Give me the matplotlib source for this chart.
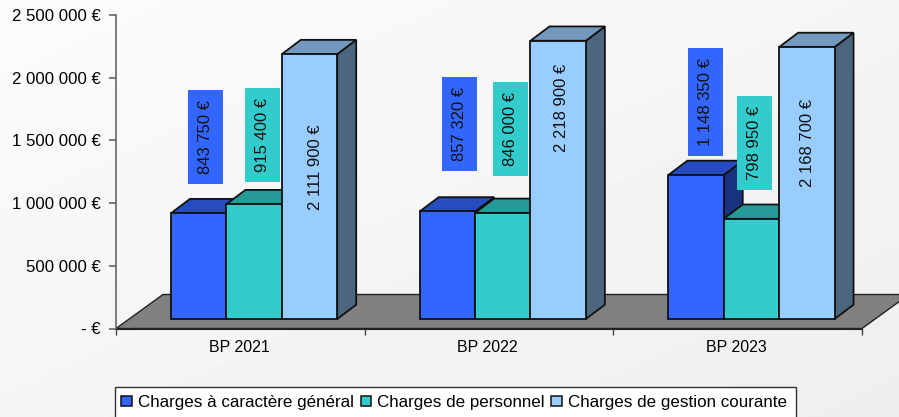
# Budget chart with fake 3D bars
import numpy as np
import matplotlib
matplotlib.use('Agg')
import matplotlib.pyplot as plt
from matplotlib.patches import Polygon, Patch, Rectangle
from matplotlib.ticker import FuncFormatter, FixedLocator, FixedFormatter

plt.rcParams['font.family'] = ['Liberation Sans', 'DejaVu Sans']

years = ['BP 2021', 'BP 2022', 'BP 2023']
series_names = ['Charges à caractère général', 'Charges de personnel', 'Charges de gestion courante']
charges_generales = [843750, 857320, 1148350]
charges_personnel = [915400, 846000, 798950]
charges_gestion = [2111900, 2218900, 2168700]
series = [charges_generales, charges_personnel, charges_gestion]

front_cols = ['#3366FF', '#33CCCC', '#99CCFF']
top_cols = ['#264DBF', '#269999', '#7399BF']
side_cols = ['#1A3380', '#1A6666', '#4D6680']

W, H = 899, 417
x0, x1 = 116, 862
ytop, ybot = 15, 328.5
cat_px = (x1 - x0) / 3
eur_px = 2500000 / (ybot - ytop)

# depth of floor and of the bars, in data units
floor_dx = 47 / cat_px
floor_dy = 34 * eur_px
bar_dx = 19 / cat_px
bar_dy = 14.3 * eur_px
base_dx = 55 / cat_px
base_dy = 9.5 * eur_px
bar_w = 55.4 / cat_px

fig = plt.figure(figsize=(W / 100, H / 100), dpi=100)

# pale background gradient
bg = fig.add_axes([0, 0, 1, 1], zorder=0)
xx, yy = np.meshgrid(np.linspace(0, 1, 200), np.linspace(0, 1, 100))
bg.imshow(0.985 - 0.05 * (xx + yy) / 2, cmap='gray', vmin=0, vmax=1, aspect='auto')
bg.axis('off')

ax = fig.add_axes([x0 / W, 1 - ybot / H, (x1 - x0) / W, (ybot - ytop) / H], zorder=1)
ax.patch.set_alpha(0)
ax.set_xlim(0, 3)
ax.set_ylim(0, 2500000)

# floor
ax.add_patch(Polygon([(0, 0), (floor_dx, floor_dy), (3 + floor_dx, floor_dy), (3, 0)],
                     closed=True, fc='#808080', ec='#222222', lw=1, clip_on=False, zorder=1))

z = 2
for i in range(len(years)):
    for s, vals in enumerate(series):
        left = i + base_dx + s * bar_w
        right = left + bar_w
        top = base_dy + vals[i]
        ax.bar(left, vals[i], bar_w, bottom=base_dy, align='edge', color=front_cols[s],
               edgecolor='#111111', lw=1.3, zorder=z + 1, clip_on=False)
        ax.add_patch(Polygon([(right, base_dy), (right + bar_dx, base_dy + bar_dy),
                              (right + bar_dx, top + bar_dy), (right, top)],
                             closed=True, fc=side_cols[s], ec='#111111', lw=1.3, zorder=z, clip_on=False))
        ax.add_patch(Polygon([(left, top), (left + bar_dx, top + bar_dy),
                              (right + bar_dx, top + bar_dy), (right, top)],
                             closed=True, fc=top_cols[s], ec='#111111', lw=1.3, zorder=z, clip_on=False))
        z += 2


def euro(v, pos=None):
    if v == 0:
        return '- €'
    return f'{int(v):,} €'.replace(',', ' ')


# data labels were moved by hand in the original, centres in pixels
label_x = [[205.5, 262.5, 315], [459.5, 510.5, 562], [705.5, 754.5, 807]]
label_y = [[137, 135, 167], [124, 129, 108], [102, 143, 143]]
for i in range(len(years)):
    for s, vals in enumerate(series):
        lx = (label_x[i][s] - x0) / cat_px
        ly = (ybot - label_y[i][s]) * eur_px
        ax.text(lx, ly, euro(vals[i]), rotation=90, ha='center', va='center', fontsize=12,
                zorder=100, color='#111111',
                bbox=dict(boxstyle='square,pad=0.6', fc=front_cols[s], ec='none'))

ax.yaxis.set_major_locator(FixedLocator(np.arange(0, 2500001, 500000)))
ax.yaxis.set_major_formatter(FuncFormatter(euro))
ax.tick_params(axis='y', length=5, width=1.2, color='#666666', pad=6, labelsize=12.1)
ax.xaxis.set_major_locator(FixedLocator([0, 1, 2, 3]))
ax.xaxis.set_major_formatter(FixedFormatter(['', '', '', '']))
ax.xaxis.set_minor_locator(FixedLocator([0.495, 1.495, 2.495]))
ax.xaxis.set_minor_formatter(FixedFormatter(years))
ax.tick_params(axis='x', which='major', length=4, width=1, color='#444444')
ax.tick_params(axis='x', which='minor', length=0, pad=8.5, labelsize=11.5)
for sp in ['top', 'right']:
    ax.spines[sp].set_visible(False)
ax.spines['left'].set_color('#666666')
ax.spines['left'].set_linewidth(1.2)
ax.spines['bottom'].set_color('#222222')

# legend box runs off the bottom of the picture
fig.add_artist(Rectangle((114.5 / W, -5 / H), (796 - 114.5) / W, (5 + 417 - 387) / H,
                         transform=fig.transFigure, fc='white', ec='#333333', lw=1, zorder=4))
handles = [Patch(fc=c, ec='#111111', lw=1.1) for c in front_cols]
leg = fig.legend(handles, series_names, ncol=3, loc='upper left', bbox_to_anchor=(113.5 / W, 1 - 387 / H),
                 bbox_transform=fig.transFigure, fontsize=12.25, frameon=False, handlelength=0.6,
                 handleheight=0.6, handletextpad=0.38, columnspacing=0.38, borderpad=0.47,
                 borderaxespad=0)
leg.set_zorder(5)

fig.savefig('out.png', dpi=100)
